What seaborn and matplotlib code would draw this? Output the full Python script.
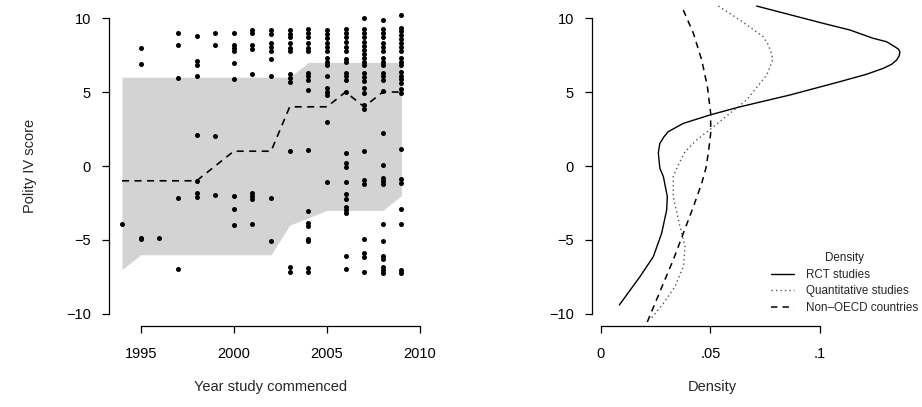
import matplotlib
matplotlib.use("Agg")
import matplotlib.pyplot as plt
import seaborn as sns
import pandas as pd

sns.set_theme(style="ticks")
plt.rcParams["font.family"] = ["Liberation Sans", "DejaVu Sans"]

# Polity IV scores of RCT studies, grouped by the year the study commenced
study_years = list(range(1994, 2010))
scores_by_year = [
    [-3.9],
    [8.0, 6.9, -4.9, -4.85],
    [-4.85],
    [9.0, 8.2, 5.95, -2.15, -6.95],
    [8.8, 7.1, 6.85, 6.05, 2.1, -1.0, -1.85, -2.1],
    [9.0, 8.2, 2.05, -1.95],
    [9.0, 8.2, 8.0, 7.75, 6.95, 5.9, -2.0, -2.9, -4.0],
    [9.2, 9.0, 8.15, 7.9, 6.2, -1.85, -2.05, -2.25, -3.9],
    [9.2, 8.9, 8.3, 8.05, 7.8, 7.2, 6.1, -2.15, -5.05],
    [9.2, 8.95, 8.7, 8.3, 8.0, 7.8, 6.2, 5.95, 5.7, 1.0, -6.85, -7.15],
    [9.25, 9.0, 8.7, 8.3, 8.0, 7.75, 6.3, 6.05, 5.8, 5.15, 1.05,
     -3.05, -3.85, -4.05, -4.9, -5.1, -6.9, -7.15],
    [9.2, 8.95, 8.65, 8.3, 8.05, 7.8, 7.3, 7.0, 6.8, 6.1, 5.25, 5.0,
     4.8, 3.0, -1.1],
    [9.25, 9.0, 8.7, 8.35, 8.05, 7.8, 7.25, 7.0, 6.3, 6.05, 5.8, 5.0,
     0.85, 0.2, -0.05, -1.05, -1.9, -2.2, -2.8, -3.0, -3.2, -6.1, -6.95],
    [10.0, 9.25, 9.0, 8.7, 8.35, 8.1, 7.85, 7.6, 7.3, 7.05, 6.8, 6.3,
     6.0, 5.75, 5.25, 4.95, 4.15, 3.85, 1.0, -0.95, -1.2, -4.95, -5.9,
     -6.15, -7.15],
    [9.9, 9.25, 9.0, 8.7, 8.3, 8.05, 7.8, 7.3, 7.05, 6.8, 6.3, 6.05,
     5.8, 5.05, 2.2, 0.1, -0.8, -1.0, -1.2, -3.95, -5.1, -6.05, -6.3,
     -6.85, -7.0, -7.2],
    [10.2, 9.35, 9.1, 8.85, 8.6, 8.3, 8.05, 7.8, 7.3, 7.05, 6.8, 6.35,
     6.1, 5.85, 5.6, 5.2, 4.9, 1.15, -0.85, -1.15, -2.9, -3.9, -7.0, -7.2],
]

# Yearly spread and median of the scores
band_lower = [-7, -6, -6, -6, -6, -6, -6, -6, -6, -4, -3.5, -3, -3, -3, -3, -2]
band_upper = [6, 6, 6, 6, 6, 6, 6, 6, 6, 6, 7, 7, 7, 7, 7, 7]
band_median = [-1, -1, -1, -1, -1, 0, 1, 1, 1, 4, 4, 4, 5, 4, 5, 5]

# Density of Polity IV scores (score on the vertical axis)
rct_score = [10.81, 9.64, 9.19, 8.63, 8.4, 8.06, 7.9, 7.72, 7.45, 7.16,
             6.87, 6.6, 6.2, 5.7, 4.8, 4.0, 3.45, 2.88, 2.32, 1.98, 1.53,
             1.2, 0.86, 0.41, -0.16, -0.72, -2.07, -2.97, -4.55, -6.13,
             -7.48, -9.39]
rct_density = [0.0711, 0.1015, 0.1137, 0.1243, 0.1304, 0.1342, 0.1358,
               0.1365, 0.1362, 0.135, 0.1327, 0.1289, 0.1213, 0.1091,
               0.0863, 0.0635, 0.0498, 0.0376, 0.0307, 0.0288, 0.0269,
               0.0265, 0.0262, 0.0265, 0.0269, 0.0285, 0.0303, 0.030,
               0.0277, 0.0239, 0.0178, 0.0084]
quant_score = [10.81, 9.86, 8.74, 8.18, 7.61, 7.16, 6.71, 6.15, 5.59, 4.46,
               3.56, 2.55, 1.76, 0.97, -0.05, -0.72, -2.07, -4.1, -5.45,
               -6.8, -8.15, -9.28, -10.4]
quant_density = [0.0536, 0.0635, 0.0741, 0.0764, 0.0779, 0.0784, 0.0772,
                 0.0757, 0.0726, 0.0665, 0.0589, 0.0505, 0.0437, 0.0384,
                 0.0349, 0.033, 0.033, 0.0361, 0.0384, 0.0376, 0.0338,
                 0.0285, 0.0224]
oecd_score = [10.54, 8.97, 7.16, 5.36, 3.56, 2.21, 0.86, -0.16, -1.17,
              -2.75, -4.55, -6.35, -7.93, -9.28, -10.63]
oecd_density = [0.0376, 0.0422, 0.046, 0.0486, 0.0501, 0.0501, 0.049,
                0.0479, 0.046, 0.0422, 0.0376, 0.033, 0.0285, 0.0247, 0.0209]

points = pd.DataFrame(
    [(yr, s) for yr, vals in zip(study_years, scores_by_year) for s in vals],
    columns=["year", "polity"],
)

W, H = 922, 407
fig = plt.figure(figsize=(W / 100, H / 100), dpi=100)
bottom = 1 - 325.8 / H
height = (325.8 - 6.2) / H
ax1 = fig.add_axes([109 / W, bottom, 323 / W, height])
ax2 = fig.add_axes([592 / W, bottom, 240 / W, height])

fs = 10.5
dash = (0, (4.2, 3.3))

# Left: scatter of studies over the yearly band and median
ax1.fill_between(study_years, band_lower, band_upper, color="#d3d3d3",
                 linewidth=0, zorder=1)
sns.lineplot(x=study_years, y=band_median, ax=ax1, color="black",
             linewidth=1.2, linestyle=dash, zorder=2)
sns.scatterplot(data=points, x="year", y="polity", ax=ax1, color="black",
                s=13, linewidth=0, zorder=3)
ax1.set_xlim(1993.30, 2010.64)
ax1.set_ylim(-10.8, 10.8)
ax1.set_xticks([1995, 2000, 2005, 2010])
ax1.set_yticks([-10, -5, 0, 5, 10])
ax1.spines["left"].set_bounds(-10, 10)
ax1.spines["bottom"].set_bounds(1995, 2010)
ax1.set_xlabel("Year study commenced", fontsize=fs, va="center")
ax1.xaxis.set_label_coords(0.5, -0.19)
ax1.set_ylabel("Polity IV score", fontsize=fs, va="center")
ax1.yaxis.set_label_coords(-0.2446, 0.5)

# Right: density curves
sns.lineplot(x=rct_density, y=rct_score, ax=ax2, sort=False, estimator=None,
             color="black", linewidth=1.0, label="RCT studies")
sns.lineplot(x=quant_density, y=quant_score, ax=ax2, sort=False,
             estimator=None, color="#555555", linewidth=1.0,
             linestyle=(0, (1, 2.2)), label="Quantitative studies")
sns.lineplot(x=oecd_density, y=oecd_score, ax=ax2, sort=False,
             estimator=None, color="black", linewidth=1.1, linestyle=dash,
             label="Non\u2013OECD countries")
for ln in ax2.lines:
    ln.set_clip_on(False)
    ln.set_solid_joinstyle("round")
ax2.set_xlim(-0.0041, 0.1055)
ax2.set_ylim(-10.8, 10.8)
ax2.set_xticks([0, 0.05, 0.1])
ax2.set_xticklabels(["0", ".05", ".1"])
ax2.set_yticks([-10, -5, 0, 5, 10])
ax2.spines["left"].set_bounds(-10, 10)
ax2.spines["bottom"].set_bounds(0, 0.1)
ax2.set_xlabel("Density", fontsize=fs, va="center")
ax2.xaxis.set_label_coords(0.5, -0.19)
ax2.set_ylabel("")

leg = ax2.legend(loc="upper left", bbox_to_anchor=(771 / W, 1 - 252 / H),
                 bbox_transform=fig.transFigure, frameon=False, borderpad=0,
                 borderaxespad=0, fontsize=8.4, title="Density",
                 title_fontsize=8.4, handlelength=2.0, handletextpad=1.0,
                 labelspacing=0.4)

for ax in (ax1, ax2):
    for side in ("top", "right"):
        ax.spines[side].set_visible(False)
    for side in ("left", "bottom"):
        ax.spines[side].set_linewidth(0.9)
        ax.spines[side].set_color("black")
    ax.tick_params(direction="out", length=5, width=0.9, pad=8,
                   labelsize=fs, colors="black")
    ax.tick_params(axis="x", pad=10.5)
    ax.set_facecolor("white")

fig.savefig("out.png", dpi=100, facecolor="white")
